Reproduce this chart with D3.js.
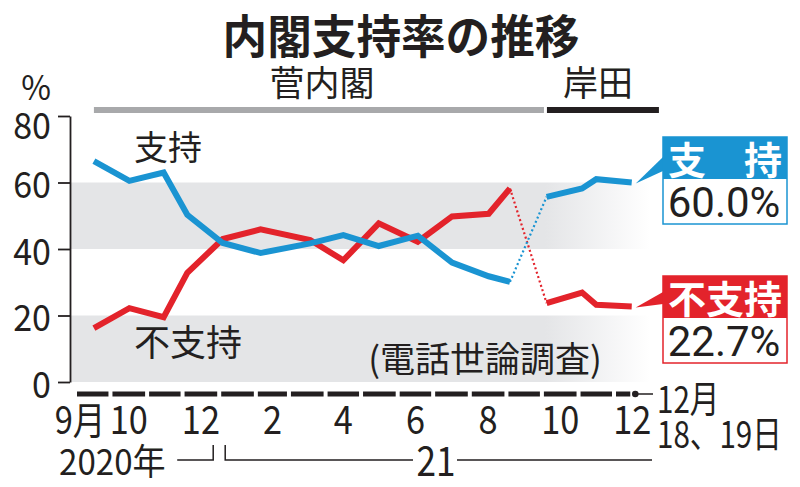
<!DOCTYPE html>
<html><head><meta charset="utf-8">
<script src="https://cdn.jsdelivr.net/npm/d3@7/dist/d3.min.js"></script>
<style>
html,body{margin:0;padding:0;background:#fff;}
svg{display:block;}
text{font-family:"Noto Sans CJK JP","Noto Sans",sans-serif;}
</style></head><body>
<svg id="chart" width="800" height="487"></svg>
<script>
// ---- data ----
const surveyDates = ["2020-09-17","2020-10-17","2020-11-15","2020-12-05","2021-01-04","2021-02-05",
  "2021-03-19","2021-04-16","2021-05-16","2021-06-18","2021-07-17","2021-08-17","2021-09-04",
  "2021-10-05","2021-11-04","2021-11-16","2021-12-16"];
const supportValues =    [66.4,60.5,63.0,50.3,41.8,38.8,41.7,44.2,40.9,44.0,35.9,31.8,30.1,55.7,58.2,61.0,60.0];
const nonSupportValues = [16.2,22.2,19.5,32.8,43.0,45.9,42.7,36.6,47.7,42.2,49.8,50.6,58.2,23.7,26.9,23.2,22.7];
const sugaCount = 13; // first 13 surveys: 菅内閣, rest: 岸田
const yTicks = [0,20,40,60,80];
const xTickMonths = ["2020-09","2020-10","2020-12","2021-02","2021-04","2021-06","2021-08","2021-10","2021-12"];
const xTickLabels = ["9月","10","12","2","4","6","8","10","12"];
const cabinetNames = ["菅内閣","岸田"];
const cabinetStarts = ["2020-09-17","2021-10-04"];
const cabinetEnd = "2022-01-08";
const latestSurvey = "2021-12-19";
const latestLabel = ["12月","18、19日"];
const yearLabels = ["2020年","21"];
const seriesNames = ["支持","不支持"];
const calloutNames = ["支　持","不支持"];
const title = "内閣支持率の推移";
const note = "(電話世論調査)";

// ---- setup ----
const svg = d3.select("#chart");
const parse = d3.timeParse("%Y-%m-%d");
const parseM = d3.timeParse("%Y-%m");
const dates = surveyDates.map(parse);
const x = d3.scaleTime().domain([new Date(2020,8,1), new Date(2021,11,1)]).range([75,614]);
const y = d3.scaleLinear().domain([0,80]).range([382,116]);
const BLUE = "#1a94d2", RED = "#e3232b", INK = "#231f20", BAND = "#e4e5e7";
const NUMFONT = 'Roboto,"Noto Sans CJK JP",sans-serif';

function txt(str, tx, ty, size, o={}) {
  const t = svg.append("text")
    .attr("transform", `translate(${tx},${ty}) scale(${o.sx||1},1)`)
    .attr("font-size", size)
    .attr("text-anchor", o.anchor||"start")
    .attr("font-weight", o.weight||400)
    .attr("fill", o.fill||INK)
    .text(str);
  if (o.num) t.attr("font-family", NUMFONT);
  return t;
}

// gradient for bands
const defs = svg.append("defs");
const grad = defs.append("linearGradient").attr("id","fade")
  .attr("gradientUnits","userSpaceOnUse").attr("x1",71).attr("x2",650).attr("y1",0).attr("y2",0);
grad.append("stop").attr("offset", (545-71)/(650-71)).attr("stop-color",BAND).attr("stop-opacity",1);
grad.append("stop").attr("offset",1).attr("stop-color",BAND).attr("stop-opacity",0);

[[40,60],[0,20]].forEach(([a,b]) => {
  svg.append("rect").attr("x",71).attr("width",650-71)
    .attr("y",y(b)).attr("height",y(a)-y(b)).attr("fill","url(#fade)");
});

// title
txt(title, 401, 53, 46, {anchor:"middle", weight:700, sx:0.97});

// cabinet bars
const cs = cabinetStarts.map(parse);
const ce = parse(cabinetEnd);
svg.append("rect").attr("x",x(cs[0])).attr("width",x(cs[1])-1.5-x(cs[0])).attr("y",107).attr("height",6).attr("fill","#a8a9ab");
svg.append("rect").attr("x",x(cs[1])+1.5).attr("width",x(ce)-x(cs[1])-1.5).attr("y",107).attr("height",6).attr("fill",INK);
txt(cabinetNames[0], 322, 96, 35, {anchor:"middle"});
txt(cabinetNames[1], 598, 96, 35, {anchor:"middle"});

// y axis
txt("%", 36, 100, 34, {anchor:"middle", sx:0.95, num:true});
const yAxis = d3.axisLeft(y).tickValues(yTicks).tickSize(12).tickSizeOuter(0).tickFormat(d3.format("d"));
const gy = svg.append("g").attr("transform","translate(70,0)").call(yAxis);
gy.select(".domain").attr("stroke",INK).attr("stroke-width",1.8);
gy.selectAll(".tick line").attr("stroke",INK).attr("stroke-width",1.8);
gy.selectAll(".tick text")
  .attr("font-family",NUMFONT)
  .attr("font-size",37).attr("fill",INK)
  .attr("x",-19/0.92).attr("dy",null)
  .attr("y", d => d===80 ? 22 : 15)
  .attr("transform","scale(0.92,1)");

// x axis dashes
const months = d3.timeMonth.range(new Date(2020,8,1), new Date(2021,11,1));
svg.selectAll("rect.dash").data(months).join("rect").attr("class","dash")
  .attr("x", d => x(d)+2).attr("width", d => x(d3.timeMonth.offset(d,1))-x(d)-4)
  .attr("y",391.5).attr("height",5).attr("fill",INK);
const lastX = x(parse(latestSurvey));
svg.append("rect").attr("x",x(new Date(2021,11,1))+2).attr("width",lastX-5-x(new Date(2021,11,1))-2)
  .attr("y",391.5).attr("height",5).attr("fill",INK);
svg.append("circle").attr("cx",lastX).attr("cy",394).attr("r",3.3).attr("fill",INK);
svg.append("line").attr("x1",lastX).attr("x2",653).attr("y1",394).attr("y2",394).attr("stroke",INK).attr("stroke-width",1.5);

// x tick labels
xTickMonths.forEach((m,i) => {
  const d = parseM(m);
  const nx = x(d3.timeMonth.offset(d,1));
  if (xTickLabels[i].includes("月")) {
    txt(xTickLabels[i], nx-5, 434, 38, {anchor:"end", sx:0.86, num:true});
  } else {
    txt(xTickLabels[i], (x(d)+nx)/2, 434, 39, {anchor:"middle", sx:0.88, num:true});
  }
});
// latest survey date label (two lines in one text)
const ll = svg.append("text").attr("transform","translate(657,413) scale(0.8,1)").attr("font-size",37)
  .attr("font-family",NUMFONT).attr("fill",INK);
ll.append("tspan").attr("x",0).attr("y",0).text(latestLabel[0]);
ll.append("tspan").attr("x",0).attr("y",35).text(latestLabel[1]);

// year row
const jan = x(new Date(2021,0,1));
txt(yearLabels[0], 59, 475, 36, {sx:0.92, num:true});
txt(yearLabels[1], 436, 476, 40, {anchor:"middle", sx:0.88, num:true});
svg.append("path").attr("d",`M${jan-42},460H${jan-6}V445`).attr("fill","none").attr("stroke",INK).attr("stroke-width",1.5);
svg.append("path").attr("d",`M${jan+6},445V460H413M457,460H652`).attr("fill","none").attr("stroke",INK).attr("stroke-width",1.5);

// series lines
const line = d3.line().x(d => x(d.date)).y(d => y(d.v));
function series(values) { return values.map((v,i) => ({date:dates[i], v})); }
const sup = series(supportValues), non = series(nonSupportValues);
function drawSeries(data, color) {
  svg.append("path").datum(data.slice(0,sugaCount)).attr("d",line)
    .attr("fill","none").attr("stroke",color).attr("stroke-width",6).attr("stroke-linejoin","miter").attr("stroke-miterlimit",3);
  svg.append("path").datum(data.slice(sugaCount)).attr("d",line)
    .attr("fill","none").attr("stroke",color).attr("stroke-width",6).attr("stroke-linejoin","miter").attr("stroke-miterlimit",3);
  svg.append("path").datum(data.slice(sugaCount-1,sugaCount+1)).attr("d",line)
    .attr("fill","none").attr("stroke",color).attr("stroke-width",2.2).attr("stroke-dasharray","2,2.6");
}
drawSeries(non, RED);
drawSeries(sup, BLUE);

// series labels
txt(seriesNames[0], 134, 160, 34);
txt(seriesNames[1], 134, 356, 36);
txt(note, 485, 372, 35, {anchor:"middle"});

// callouts
const endX = x(dates[dates.length-1]);
function callout(val, color, name, top, wedgeTopY, wedgeBotY) {
  const tipY = y(val);
  svg.append("path").attr("d",`M${endX+4},${tipY+1}L663,${wedgeTopY}L663,${wedgeBotY}Z`).attr("fill",color);
  svg.append("rect").attr("x",663).attr("y",top).attr("width",124).attr("height",87)
    .attr("fill","#fff").attr("stroke",color).attr("stroke-width",1.5);
  svg.append("rect").attr("x",663).attr("y",top).attr("width",124).attr("height",42).attr("fill",color);
  const t = svg.append("text").attr("text-anchor","middle");
  t.append("tspan").attr("x",725).attr("y",top+37).attr("font-size",38).attr("font-weight",700).attr("fill","#fff").text(name);
  t.append("tspan").attr("x",724).attr("y",top+80).attr("font-size",42).attr("font-family",NUMFONT).attr("fill",INK)
    .text(d3.format(".1f")(val)+"%");
}
callout(supportValues[supportValues.length-1], BLUE, calloutNames[0], 137, 157, 171);
callout(nonSupportValues[nonSupportValues.length-1], RED, calloutNames[1], 276, 292, 304);
</script>
</body></html>
